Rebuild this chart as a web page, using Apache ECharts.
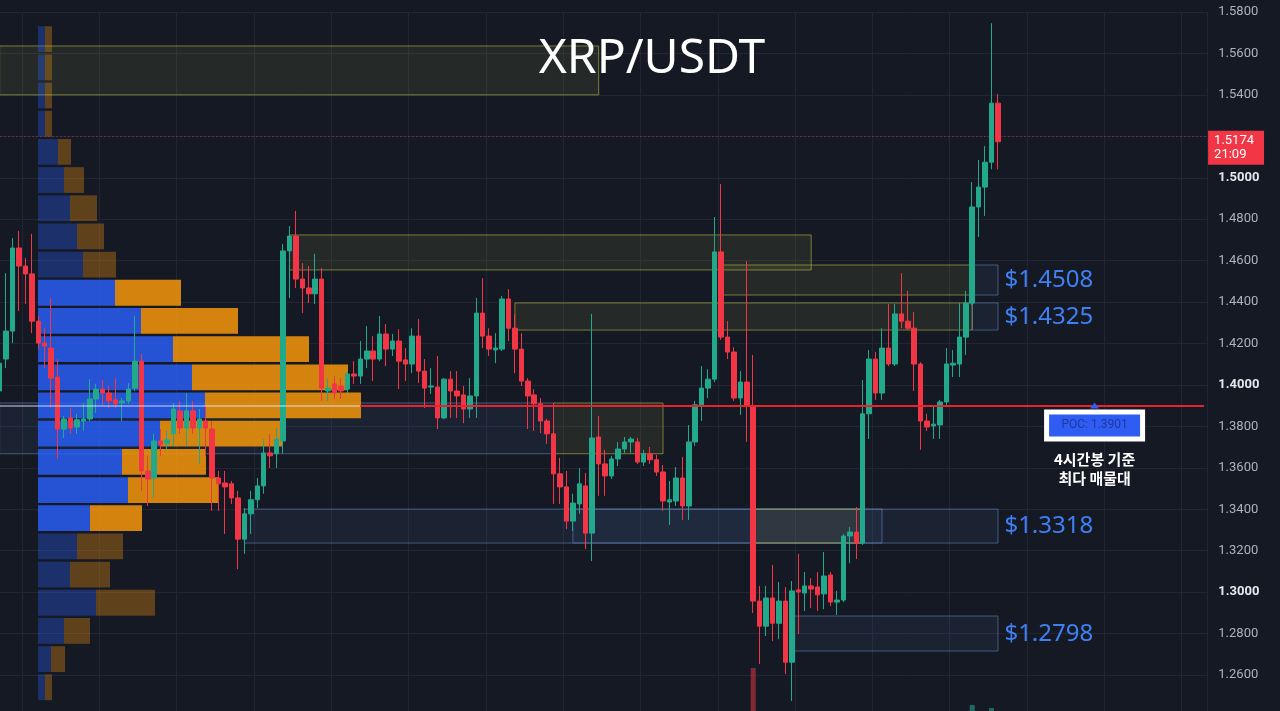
<!DOCTYPE html>
<html><head><meta charset="utf-8">
<script src="https://cdn.jsdelivr.net/npm/echarts@6/dist/echarts.min.js"></script>
<style>html,body{margin:0;padding:0;background:#151924;overflow:hidden}#c{width:1280px;height:711px}</style>
</head><body><div id="c"></div>
<script>
// ---- DATA ----
// 4h candles: [open, close, low, high]
const candles = [
[1.3971,1.4105,1.3923,1.4140],[1.4125,1.4260,1.4081,1.4540],[1.4260,1.4661,1.4202,1.4709],[1.4661,1.4574,1.4357,1.4743],
[1.4574,1.4536,1.4391,1.4613],[1.4536,1.4308,1.4250,1.4729],[1.4308,1.4202,1.4173,1.4333],[1.4202,1.4188,1.4081,1.4274],
[1.4178,1.4033,1.3889,1.4420],[1.4038,1.3787,1.3643,1.4125],[1.3787,1.3836,1.3744,1.3851],[1.3841,1.3792,1.3764,1.3889],
[1.3797,1.3832,1.3764,1.3861],[1.3826,1.3836,1.3778,1.3913],[1.3836,1.3932,1.3826,1.4028],[1.3932,1.3980,1.3865,1.4005],
[1.3980,1.3961,1.3899,1.4024],[1.3961,1.3923,1.3889,1.3995],[1.3928,1.3909,1.3889,1.4033],[1.3913,1.3923,1.3826,1.3937],
[1.3923,1.3980,1.3909,1.4009],[1.3985,1.4115,1.3971,1.4333],[1.4115,1.3585,1.3489,1.4150],[1.3585,1.3546,1.3416,1.3658],
[1.3551,1.3730,1.3455,1.3764],[1.3730,1.3711,1.3658,1.3787],[1.3716,1.3735,1.3691,1.3778],[1.3764,1.3884,1.3706,1.3913],
[1.3875,1.3792,1.3764,1.3923],[1.3792,1.3875,1.3706,1.3961],[1.3875,1.3792,1.3764,1.3923],[1.3792,1.3836,1.3619,1.3884],
[1.3826,1.3792,1.3658,1.3899],[1.3787,1.3551,1.3392,1.3826],[1.3551,1.3523,1.3392,1.3585],[1.3527,1.3508,1.3281,1.3585],
[1.3523,1.3455,1.3426,1.3537],[1.3455,1.3256,1.3111,1.3489],[1.3256,1.3378,1.3185,1.3406],[1.3378,1.3446,1.3281,1.3489],
[1.3446,1.3513,1.3406,1.3551],[1.3513,1.3672,1.3475,1.3739],[1.3672,1.3658,1.3599,1.3764],[1.3668,1.3739,1.3599,1.3792],
[1.3730,1.4647,1.3668,1.4681],[1.4647,1.4719,1.4420,1.4767],[1.4719,1.4511,1.4468,1.4840],[1.4511,1.4468,1.4347,1.4588],
[1.4468,1.4440,1.4395,1.4574],[1.4440,1.4511,1.4391,1.4633],[1.4511,1.3985,1.3923,1.4564],[1.3971,1.3985,1.3923,1.4033],
[1.4005,1.3961,1.3932,1.4043],[1.3995,1.3971,1.3932,1.4033],[1.3980,1.4053,1.3961,1.4067],[1.4053,1.4043,1.4005,1.4115],
[1.4043,1.4125,1.4005,1.4212],[1.4125,1.4164,1.4081,1.4284],[1.4164,1.4125,1.4019,1.4236],[1.4125,1.4246,1.4115,1.4333],
[1.4246,1.4173,1.4091,1.4294],[1.4173,1.4212,1.4140,1.4246],[1.4212,1.4115,1.3980,1.4269],[1.4121,1.4101,1.4019,1.4178],
[1.4101,1.4236,1.4057,1.4274],[1.4236,1.4067,1.4009,1.4318],[1.4067,1.3985,1.3889,1.4125],[1.3990,1.3995,1.3957,1.4081],
[1.3990,1.3841,1.3787,1.4140],[1.3841,1.4028,1.3836,1.4033],[1.4028,1.3971,1.3841,1.4067],[1.3971,1.3947,1.3841,1.4067],
[1.3952,1.3884,1.3816,1.3995],[1.3884,1.3947,1.3841,1.4033],[1.3947,1.4347,1.3841,1.4420],[1.4347,1.4236,1.4178,1.4516],
[1.4236,1.4173,1.4140,1.4274],[1.4169,1.4178,1.4105,1.4250],[1.4173,1.4415,1.4164,1.4430],[1.4415,1.4274,1.4212,1.4463],
[1.4274,1.4173,1.4057,1.4343],[1.4173,1.4019,1.3995,1.4250],[1.4019,1.3947,1.3787,1.4033],[1.3952,1.3909,1.3778,1.3980],
[1.3909,1.3826,1.3768,1.3937],[1.3826,1.3764,1.3716,1.3836],[1.3764,1.3571,1.3426,1.3913],[1.3571,1.3508,1.3426,1.3648],
[1.3508,1.3343,1.3304,1.3585],[1.3343,1.3430,1.3295,1.3475],[1.3426,1.3523,1.3378,1.3599],[1.3513,1.3285,1.3208,1.3575],
[1.3285,1.3744,1.3150,1.4343],[1.3749,1.3619,1.3465,1.3851],[1.3619,1.3561,1.3465,1.3687],[1.3561,1.3643,1.3546,1.3658],
[1.3643,1.3691,1.3609,1.3725],[1.3691,1.3725,1.3672,1.3749],[1.3725,1.3739,1.3672,1.3749],[1.3725,1.3628,1.3619,1.3744],
[1.3628,1.3668,1.3609,1.3687],[1.3668,1.3639,1.3619,1.3701],[1.3639,1.3580,1.3561,1.3663],[1.3580,1.3440,1.3392,1.3614],
[1.3435,1.3446,1.3324,1.3537],[1.3440,1.3551,1.3416,1.3604],[1.3551,1.3416,1.3349,1.3653],[1.3416,1.3725,1.3349,1.3807],
[1.3725,1.3904,1.3706,1.3923],[1.3904,1.3985,1.3826,1.4091],[1.3985,1.4028,1.3937,1.4076],[1.4028,1.4642,1.4014,1.4811],
[1.4642,1.4231,1.4217,1.4970],[1.4231,1.4159,1.4125,1.4308],[1.4159,1.3937,1.3923,1.4183],[1.3937,1.4014,1.3856,1.4067],
[1.4014,1.3899,1.3725,1.4598],[1.3899,1.2957,1.2899,1.4145],[1.2957,1.2836,1.2653,1.3030],[1.2836,1.2972,1.2788,1.3030],
[1.2972,1.2850,1.2764,1.3131],[1.2850,1.2957,1.2773,1.3049],[1.2957,1.2662,1.2605,1.3025],[1.2662,1.3006,1.2475,1.3054],
[1.3011,1.3001,1.2798,1.3185],[1.2996,1.3030,1.2909,1.3097],[1.3030,1.3015,1.2923,1.3068],[1.3025,1.2987,1.2909,1.3097],
[1.2992,1.3078,1.2918,1.3194],[1.3083,1.2952,1.2933,1.3097],[1.2952,1.2962,1.2890,1.3006],[1.2962,1.3271,1.2952,1.3281],
[1.3271,1.3290,1.3140,1.3314],[1.3290,1.3237,1.3160,1.3411],[1.3237,1.3861,1.3228,1.4024],[1.3861,1.4125,1.3739,1.4169],
[1.4125,1.3961,1.3928,1.4159],[1.3961,1.4178,1.3928,1.4274],[1.4178,1.4101,1.4091,1.4391],[1.4101,1.4343,1.4091,1.4391],
[1.4343,1.4308,1.4274,1.4540],[1.4308,1.4274,1.4265,1.4454],[1.4274,1.4101,1.3971,1.4352],[1.4101,1.3826,1.3687,1.4110],
[1.3826,1.3797,1.3778,1.3861],[1.3802,1.3811,1.3739,1.3904],[1.3807,1.3918,1.3739,1.3928],[1.3918,1.4101,1.3904,1.4178],
[1.4096,1.4105,1.4038,1.4169],[1.4101,1.4231,1.4038,1.4395],[1.4231,1.4395,1.4145,1.4454],[1.4395,1.4859,1.4386,1.4979],
[1.4859,1.4955,1.4714,1.5086],[1.4955,1.5075,1.4816,1.5153],[1.5075,1.5360,1.5041,1.5746],[1.5360,1.5174,1.5041,1.5405]
];
// visible volume bars (rest of the volume pane is below the frame)
const volumeBars = { 117: 43, 151: 6, 154: 3 };
const totalSlots = 188;             // candles + empty space to the right

// volume profile rows: center price, buy volume, sell volume
const profilePrices = [1.5669,1.5533,1.5397,1.5261,1.5125,1.4989,1.4853,1.4717,1.4581,1.4445,1.4309,1.4173,
                       1.4037,1.3901,1.3765,1.3629,1.3493,1.3357,1.3221,1.3085,1.2949,1.2813,1.2677,1.2541];
const profileBuy  = [7,7,7,7,20,26,32,39,45,77,103,135,154,167,122,84,90,52,39,32,58,26,13,7];
const profileSell = [7,7,7,7,13,20,27,27,33,66,97,136,156,156,123,84,90,52,46,40,59,26,14,7];
const rowStep = 0.0136;
const valueAreaHigh = 1.4500, valueAreaLow = 1.3300;

const poc = 1.3901;
const currentPrice = 1.5174, countdown = '21:09';
const levels = [1.4508, 1.4325, 1.3318, 1.2798];
const yTicks = { min: 1.24, max: 1.58, step: 0.02 };

// zones: [startCandle, endCandle, top, bottom, kind]
const zones = [
  [0, 93, 1.5636, 1.5400, 'y'],
  [45, 126, 1.4724, 1.4555, 'y'],
  [112, 151, 1.4579, 1.4434, 'y'],
  [151, 155, 1.4579, 1.4434, 'b'],
  [80, 151, 1.4396, 1.4265, 'y'],
  [151, 155, 1.4396, 1.4265, 'b'],
  [0, 86, 1.3913, 1.3668, 'b'],
  [86, 103, 1.3913, 1.3668, 'y'],
  [38, 137, 1.3401, 1.3237, 'b'],
  [89, 155, 1.3401, 1.3237, 'b'],
  [117, 134, 1.3401, 1.3237, 'y'],
  [123, 155, 1.2885, 1.2716, 'b']
];

// ---- BUILD ----
const cats = [];
const t0 = Date.UTC(2025, 0, 10, 0);
for (let i = 0; i < totalSlots; i++) {
  const d = new Date(t0 + i * 4 * 3600 * 1000);
  cats.push((d.getUTCMonth()+1) + '/' + d.getUTCDate() + ' ' + String(d.getUTCHours()).padStart(2,'0') + ':00');
}
const volData = cats.map((c, i) => volumeBars[i] != null ? {
  value: volumeBars[i],
  itemStyle: { color: candles[i][1] >= candles[i][0] ? 'rgba(34,171,148,0.55)' : 'rgba(242,54,69,0.5)' }
} : null);

const zoneStyle = {
  y: { color: 'rgba(190,190,80,0.10)', borderColor: 'rgba(200,200,70,0.55)', borderWidth: 1 },
  b: { color: 'rgba(90,130,200,0.09)', borderColor: 'rgba(110,150,210,0.50)', borderWidth: 1 }
};
const markAreaData = zones.map(z => [
  { xAxis: cats[z[0]], yAxis: z[2], itemStyle: zoneStyle[z[4]] },
  { xAxis: cats[z[1]], yAxis: z[3] }
]);

const profileData = profilePrices.map((p, i) => [p, profileBuy[i], profileSell[i]]);

const GRID_L = -3.6, GRID_R = 72.7, GRID_T = 12, GRID_B = -5.5;

const chart = echarts.init(document.getElementById('c'), null, { renderer: 'canvas' });
chart.setOption({
  animation: false,
  backgroundColor: '#151924',
  title: {
    text: 'XRP/USDT', left: 647, top: 30, textAlign: 'center',
    textStyle: { color: '#ffffff', fontSize: 48, fontWeight: 'normal', fontFamily: 'Noto Sans' }
  },
  grid: [
    { left: GRID_L, right: GRID_R, top: GRID_T, bottom: GRID_B, containLabel: false, outerBoundsMode: 'none' },
    { left: 38, right: 242, top: GRID_T, bottom: GRID_B, containLabel: false, outerBoundsMode: 'none' },
    { left: GRID_L, right: GRID_R, top: 611, bottom: 0, containLabel: false, outerBoundsMode: 'none' }
  ],
  xAxis: [
    { type: 'category', gridIndex: 0, data: cats, boundaryGap: true,
      axisLine: { show: false }, axisTick: { show: false }, axisLabel: { show: false },
      splitLine: { show: true, interval: (i) => i % 12 === 4, lineStyle: { color: '#222634', width: 1 } } },
    { type: 'value', gridIndex: 1, min: 0, max: 1000, show: false },
    { type: 'category', gridIndex: 2, data: cats, show: false }
  ],
  yAxis: [
    { type: 'value', gridIndex: 0, position: 'right', min: yTicks.min, max: yTicks.max, interval: yTicks.step,
      axisLine: { show: false }, axisTick: { show: false },
      splitLine: { show: true, lineStyle: { color: '#222634', width: 1 } },
      axisLabel: {
        margin: 11, fontFamily: 'Roboto', showMinLabel: false,
        formatter: v => {
          const s = v.toFixed(4);
          return Math.abs(v * 10 - Math.round(v * 10)) < 1e-6 ? '{b|' + s + '}' : '{n|' + s + '}';
        },
        rich: {
          n: { color: '#aeb2bd', fontSize: 13, fontFamily: 'Roboto' },
          b: { color: '#e6e8ee', fontSize: 13, fontWeight: 'bold', fontFamily: 'Roboto' }
        }
      } },
    { type: 'value', gridIndex: 1, min: yTicks.min, max: yTicks.max, show: false },
    { type: 'value', gridIndex: 2, min: 0, max: 100, show: false }
  ],
  series: [
    {
      type: 'custom', name: 'Volume Profile', xAxisIndex: 1, yAxisIndex: 1, z: 1,
      data: profileData, encode: { x: [1, 2], y: 0 }, silent: true,
      renderItem: (params, api) => {
        const c = api.value(0), up = api.value(1), dn = api.value(2);
        const bright = c <= valueAreaHigh && c >= valueAreaLow;
        const h = api.size([0, rowStep])[1];
        const p0 = api.coord([0, c]), p1 = api.coord([up, c]), p2 = api.coord([up + dn, c]);
        const y = p0[1] - h / 2 + 1.2, hh = h - 2.4;
        return { type: 'group', children: [
          { type: 'rect', shape: { x: p0[0], y: y, width: p1[0] - p0[0], height: hh },
            style: { fill: bright ? 'rgba(41,98,255,0.80)' : 'rgba(41,98,255,0.33)' } },
          { type: 'rect', shape: { x: p1[0], y: y, width: p2[0] - p1[0], height: hh },
            style: { fill: bright ? 'rgba(245,150,10,0.85)' : 'rgba(245,150,10,0.33)' } }
        ] };
      }
    },
    {
      type: 'candlestick', name: 'XRP/USDT 4h', xAxisIndex: 0, yAxisIndex: 0, z: 3,
      data: candles, barWidth: 5,
      itemStyle: { color: '#22a98c', color0: '#f23645', borderColor: '#22a98c', borderColor0: '#f23645', borderWidth: 1 },
      markArea: { silent: true, data: markAreaData },
      markLine: {
        silent: true, symbol: ['none', 'none'],
        data: [
          [{ coord: [cats[0], poc], lineStyle: { color: 'rgba(225,232,255,0.45)', width: 2, type: 'solid' }, label: { show: false } },
           { coord: [cats[56], poc] }],
          [{ coord: [cats[56], poc], lineStyle: { color: '#e8232e', width: 2, type: 'solid' }, label: { show: false } },
           { coord: [cats[totalSlots - 1], poc] }],
          { yAxis: currentPrice, label: { show: false },
            lineStyle: { color: 'rgba(242,54,69,0.75)', width: 1, type: [1, 3] } }
        ]
      },
      markPoint: {
        silent: true, animation: false,
        data: levels.map(p => ({
          coord: [cats[156], p], symbol: 'circle', symbolSize: 0,
          label: { show: true, position: 'right', distance: 0, formatter: '$' + p.toFixed(4),
            color: '#3f80f4', fontSize: 24, fontFamily: 'Noto Sans' }
        })).concat([
          { coord: [cats[totalSlots - 1], currentPrice], symbol: 'circle', symbolSize: 0,
            label: { show: true, position: 'right', distance: 4, offset: [0, 6],
              formatter: currentPrice.toFixed(4) + '\n' + countdown,
              color: '#ffffff', fontSize: 13, lineHeight: 14, fontFamily: 'Roboto', align: 'left',
              backgroundColor: '#f23645', padding: [3, 10, 3, 6] } },
          { coord: [cats[170], poc], symbol: 'triangle', symbolSize: [9, 6], symbolOffset: [0, 0],
            itemStyle: { color: '#2f5cf2' },
            label: { show: true, position: 'inside', offset: [0, 20], formatter: 'POC: ' + poc.toFixed(4),
              width: 91, height: 22, lineHeight: 22, align: 'center', verticalAlign: 'middle',
              color: '#1d3a9e', fontSize: 12, fontFamily: 'Roboto', padding: 0,
              backgroundColor: '#2f5cf2', borderColor: '#ffffff', borderWidth: 5 } },
          { coord: [cats[170], poc], symbol: 'circle', symbolSize: 0,
            label: { show: true, position: 'inside', offset: [0, 63], formatter: '4시간봉 기준\n최다 매물대',
              color: '#ffffff', fontSize: 15, fontWeight: 'bold', lineHeight: 19, align: 'center',
              fontFamily: 'Noto Sans CJK KR' } }
        ])
      }
    },
    {
      type: 'bar', name: 'Volume', xAxisIndex: 2, yAxisIndex: 2, z: 2, barWidth: 5,
      data: volData, silent: true
    }
  ]
});
</script>
</body></html>
